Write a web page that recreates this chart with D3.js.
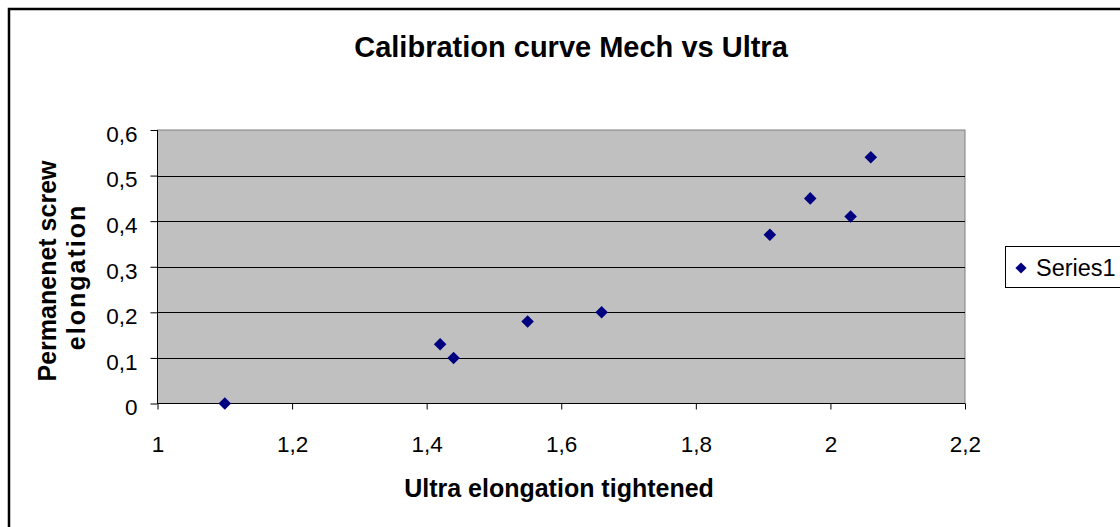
<!DOCTYPE html>
<html><head><meta charset="utf-8">
<script src="https://cdn.jsdelivr.net/npm/d3@7"></script>
<style>html,body{margin:0;padding:0;background:#fff;overflow:hidden}</style>
</head><body>
<svg id="c" width="1120" height="527"></svg>
<script>
const xValues = [1.10, 1.42, 1.44, 1.55, 1.66, 1.91, 1.97, 2.03, 2.06];
const yValues = [0.00, 0.13, 0.10, 0.18, 0.20, 0.37, 0.45, 0.41, 0.54];
const xTicks = [1, 1.2, 1.4, 1.6, 1.8, 2, 2.2];
const yTicks = [0, 0.1, 0.2, 0.3, 0.4, 0.5, 0.6];
const seriesName = "Series1";
const title = "Calibration curve Mech vs Ultra";
const xTitle = "Ultra elongation tightened";
const yTitleLines = ["Permanenet screw", "elongation"];

const svg = d3.select("#c");
const font = "Liberation Sans, Arial, sans-serif";
const L = 157.5, R = 965, T = 130, B = 403.5;
const x = d3.scaleLinear().domain([1, 2.2]).range([L, R]);
const y = d3.scaleLinear().domain([0, 0.6]).range([B, T]);
const fmt = v => String(+v.toFixed(1)).replace(".", ",");

// outer border
svg.append("rect").attr("x", 9).attr("y", 9).attr("width", 1130).attr("height", 540)
  .attr("fill", "#fff").attr("stroke", "#000").attr("stroke-width", 2.5);

// plot area
svg.append("rect").attr("x", L).attr("y", T).attr("width", R - L).attr("height", B - T)
  .attr("fill", "#c0c0c0").attr("stroke", "#808080").attr("stroke-width", 1);

// gridlines
svg.append("g").selectAll("line").data(yTicks.filter(v => v > 0 && v < 0.6)).join("line")
  .attr("x1", L).attr("x2", R).attr("y1", d => Math.round(y(d)) + 0.5).attr("y2", d => Math.round(y(d)) + 0.5)
  .attr("stroke", "#000").attr("stroke-width", 1);

// axes
const yAxis = d3.axisLeft(y).tickValues(yTicks).tickFormat(fmt).tickSize(7).tickPadding(13);
const gy = svg.append("g").attr("transform", `translate(${L},0)`).call(yAxis);
const xAxis = d3.axisBottom(x).tickValues(xTicks).tickFormat(fmt).tickSize(6).tickPadding(27);
const gx = svg.append("g").attr("transform", `translate(0,${B})`).call(xAxis);
[gx, gy].forEach(g => {
  g.select(".domain").attr("stroke", "#000").attr("stroke-width", 1);
  g.selectAll(".tick line").attr("stroke", "#000");
  g.selectAll("text").attr("font-family", font).attr("font-size", 22.5).attr("fill", "#000");
});
gy.selectAll("text").attr("dy", "0.5em");
gx.select(".domain").attr("d", `M${L},0H${R}`);
gy.select(".domain").attr("d", `M0,${B}V${T}`);

// points
const diamond = d3.symbol().type(d3.symbolDiamond2).size(100);
svg.append("g").selectAll("path").data(xValues.map((v, i) => [v, yValues[i]])).join("path")
  .attr("d", diamond).attr("transform", d => `translate(${x(d[0])},${y(d[1])})`)
  .attr("fill", "#000080");

// titles
svg.append("text").attr("x", 571).attr("y", 57).attr("text-anchor", "middle")
  .attr("font-family", font).attr("font-size", 29).attr("font-weight", "bold").text(title);
svg.append("text").attr("x", 559).attr("y", 497).attr("text-anchor", "middle")
  .attr("font-family", font).attr("font-size", 25).attr("font-weight", "bold").text(xTitle);
yTitleLines.forEach((t, i) => {
  svg.append("text").attr("transform", `translate(${56 + i * 29},${271 + i * 6}) rotate(-90)`)
    .attr("text-anchor", "middle").attr("font-family", font).attr("font-size", 25)
    .attr("font-weight", "bold").attr("letter-spacing", i === 0 ? 0 : 2).text(t);
});

// legend
svg.append("rect").attr("x", 1005.5).attr("y", 246.5).attr("width", 140).attr("height", 41)
  .attr("fill", "#fff").attr("stroke", "#000").attr("stroke-width", 1);
svg.append("path").attr("d", d3.symbol().type(d3.symbolDiamond2).size(80))
  .attr("transform", "translate(1021,268)").attr("fill", "#000080");
svg.append("text").attr("x", 1036).attr("y", 276).attr("font-family", font).attr("font-size", 23.5)
  .text(seriesName);
</script>
</body></html>
